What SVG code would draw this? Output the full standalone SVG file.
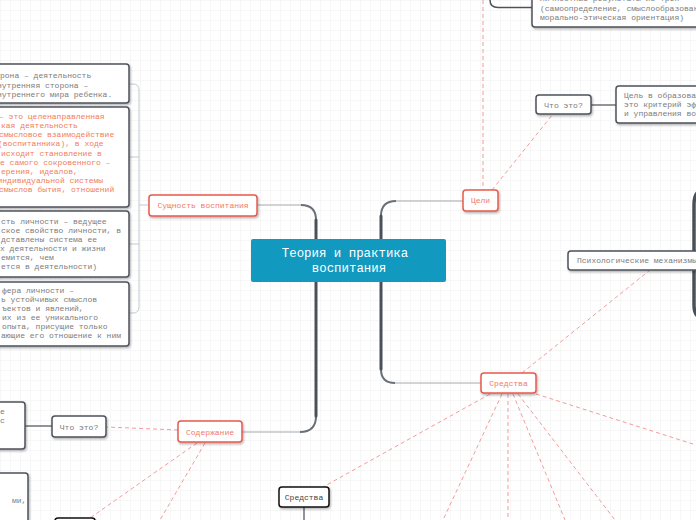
<svg xmlns="http://www.w3.org/2000/svg" width="696" height="520" viewBox="0 0 696 520">
<defs>
<pattern id="grid" width="10" height="10" patternUnits="userSpaceOnUse">
<path d="M10 0 L0 0 0 10" fill="none" stroke="#efefef" stroke-width="1"/>
</pattern>
<filter id="sh" x="-10%" y="-20%" width="130%" height="160%">
<feDropShadow dx="1" dy="1.5" stdDeviation="0.8" flood-color="#000" flood-opacity="0.3"/>
</filter>
</defs>
<style>
text{font-family:"Liberation Mono","Courier New",monospace;font-size:8px}
.box{fill:#fff;stroke:#4d535b;stroke-width:1.5;filter:url(#sh)}
.red{fill:#fff;stroke:#e9594c;stroke-width:1.5;filter:url(#sh)}
.blk{fill:#fff;stroke:#111;stroke-width:1.5;filter:url(#sh)}
.tg{fill:#7c7c7c}
.tr{fill:#f07a6a}
.to{fill:#f27d5a}
.dash{fill:none;stroke:#f59b9b;stroke-width:1;stroke-dasharray:4 3}
.thin{fill:none;stroke:#a3a9b0;stroke-width:1.2}
.thick{fill:none;stroke:#4a5058;stroke-width:3;stroke-linecap:round}
.mid{fill:none;stroke:#6a7078;stroke-width:2}
.br{fill:none;stroke:#c3c8ce;stroke-width:1}
.solid{fill:none;stroke:#555b62;stroke-width:1.3}
</style>
<rect width="696" height="520" fill="#fff"/>
<rect width="696" height="520" fill="url(#grid)"/>

<g id="connectors">
<path class="thin" d="M301,205 L257,205"/>
<path class="mid" d="M316,220 Q316,205 301,205"/>
<path class="thick" d="M316,239 L316,220"/>
<path class="thin" d="M396,201 L463,201"/>
<path class="mid" d="M381,216 Q381,201 396,201"/>
<path class="thick" d="M381,239 L381,216"/>
<path class="thin" d="M300,432 L242,432"/>
<path class="mid" d="M316,416 Q316,432 300,432"/>
<path class="thick" d="M316,282 L316,416"/>
<path class="thin" d="M395,383 L481,383"/>
<path class="mid" d="M381,369 Q381,383 395,383"/>
<path class="thick" d="M381,282 L381,369"/>
<path class="br" d="M129,84 L133,84 Q139,84 139,90 L139,307 Q139,313 133,313 L129,313"/>
<path class="br" d="M129,157 L139,157 M129,244 L139,244 M139,205 L149,205"/>
<path class="dash" d="M483,0 L483,190"/>
<path class="dash" d="M492,190 L553,114"/>
<path class="solid" d="M591,105 L616,105"/>
<path fill="none" stroke="#4d535b" stroke-width="1.5" d="M490,-4 L490,0 Q490,7.5 498,7.5 L532,7.5"/>
<path fill="none" stroke="#4a5058" stroke-width="3.5" stroke-linecap="round" d="M704,190 Q694,190 694,205 L694,305 Q694,318 704,318"/>
<path class="dash" d="M522,373 L650,270"/>
<path class="dash" d="M490,394 L323,487"/>
<path class="dash" d="M502,394 L443,520"/>
<path class="dash" d="M508,394 L508,520"/>
<path class="dash" d="M513,394 L565,520"/>
<path class="dash" d="M518,394 L615,520"/>
<path class="dash" d="M536,394 L696,445"/>
<path class="solid" d="M304,507 L304,520"/>
<path class="dash" d="M178,430 L106,427"/>
<path class="solid" d="M52,426 L25,426"/>
<path class="dash" d="M197,443 L90,518"/>
<path class="dash" d="M205,443 L160,520"/>
</g>

<g id="center">
<rect x="251" y="239" width="195" height="43" rx="2" fill="#1299bf"/>
<text x="345" y="257" text-anchor="middle" fill="#fff" style="font-size:12.4px">Теория и практика</text>
<text x="349" y="272" text-anchor="middle" fill="#fff" style="font-size:12.4px">воспитания</text>
</g>

<g id="sushnost">
<rect class="red" x="149" y="195" width="108" height="21" rx="3"/>
<text class="tr" x="203" y="208" text-anchor="middle">Сущность воспитания</text>
</g>

<g id="box1">
<rect class="box" x="-10" y="64" width="139" height="39" rx="3"/>
<text class="tg" x="0" y="78">рона – деятельность</text>
<text class="tg" x="-3" y="87.5">нутренняя сторона –</text>
<text class="tg" x="-3" y="97">нутреннего мира ребенка.</text>
</g>

<g id="box2">
<rect class="box" x="-10" y="107" width="139" height="100" rx="3"/>
<text class="to" x="-1" y="119">– это целенаправленная</text>
<text class="to" x="1" y="128">кая деятельность</text>
<text class="to" x="-1" y="137">смысловое взаимодействие</text>
<text class="to" x="-2" y="146">(воспитанника), в ходе</text>
<text class="to" x="1" y="155.5">исходит становление в</text>
<text class="to" x="0" y="164.5">е самого сокровенного  –</text>
<text class="to" x="1" y="173.5">ерения, идеалов,</text>
<text class="to" x="-2.5" y="183">индивидуальной системы</text>
<text class="to" x="-1" y="192">смыслов бытия, отношений</text>
</g>

<g id="box3">
<rect class="box" x="-10" y="211" width="139" height="66" rx="3"/>
<text class="tg" x="1" y="224">сть личности – ведущее</text>
<text class="tg" x="1" y="233">ское свойство личности, в</text>
<text class="tg" x="1" y="242">дставлены система ее</text>
<text class="tg" x="0" y="251">х деятельности и  жизни</text>
<text class="tg" x="1" y="260">емится, чем</text>
<text class="tg" x="1" y="269">ется в деятельности)</text>
</g>

<g id="box4">
<rect class="box" x="-10" y="282" width="139" height="64" rx="3"/>
<text class="tg" x="2" y="292.5">фера личности –</text>
<text class="tg" x="1" y="301.5">ь устойчивых смыслов</text>
<text class="tg" x="2" y="310.5">ъектов и явлений,</text>
<text class="tg" x="2" y="319.5">их из ее уникального</text>
<text class="tg" x="2" y="328.5"> опыта, присущие только</text>
<text class="tg" x="1" y="337.5">ающие его отношение к ним</text>
</g>

<g id="celi">
<rect class="red" x="463" y="190" width="35" height="21" rx="3"/>
<text class="tr" x="480.5" y="203" text-anchor="middle">Цели</text>
</g>

<g id="chto-eto-right">
<rect class="box" x="536" y="95" width="55" height="19" rx="3"/>
<text class="tg" x="563.5" y="107.5" text-anchor="middle">Что это?</text>
</g>

<g id="cel-box">
<rect class="box" x="616" y="86" width="90" height="37" rx="3"/>
<text class="tg" x="624" y="98">Цель в образова</text>
<text class="tg" x="624" y="107">это критерий эф</text>
<text class="tg" x="624" y="116">и управления во</text>
</g>

<g id="top-box">
<rect class="box" x="532" y="-10" width="175" height="37" rx="3"/>
<text class="tg" x="540" y="0.5">личностные результаты из трех</text>
<text class="tg" x="540" y="10.5">(самоопределение, смыслообразован</text>
<text class="tg" x="540" y="19.5">морально-этическая ориентация)</text>
</g>

<g id="psych">
<rect class="box" x="568" y="251" width="140" height="19" rx="3"/>
<text class="tg" x="577" y="263">Психологические механизмы</text>
</g>

<g id="sredstva">
<rect class="red" x="481" y="373" width="55" height="20" rx="3"/>
<text class="tr" x="508.5" y="386" text-anchor="middle">Средства</text>
</g>

<g id="soderzhanie">
<rect class="red" x="178" y="421" width="64" height="21" rx="3"/>
<text class="tr" x="210" y="434.5" text-anchor="middle">Содержание</text>
</g>

<g id="chto-eto-left">
<rect class="box" x="52" y="416" width="54" height="21" rx="3"/>
<text class="tg" x="79" y="429.5" text-anchor="middle">Что это?</text>
</g>

<g id="left-box-a">
<rect class="box" x="-10" y="402" width="35" height="47" rx="3"/>
<text class="tg" x="0" y="414">е</text>
<text class="tg" x="0" y="423">с</text>
</g>

<g id="left-box-b">
<rect class="box" x="-10" y="473" width="38" height="60" rx="3"/>
<text class="tg" x="12" y="503">ми,</text>
</g>

<g id="black-box">
<rect class="blk" x="55" y="518" width="40" height="14" rx="3"/>
</g>

<g id="sredstva-2">
<rect class="blk" x="279" y="487" width="50" height="20" rx="3"/>
<text x="304" y="500" text-anchor="middle" fill="#444">Средства</text>
</g>
</svg>
